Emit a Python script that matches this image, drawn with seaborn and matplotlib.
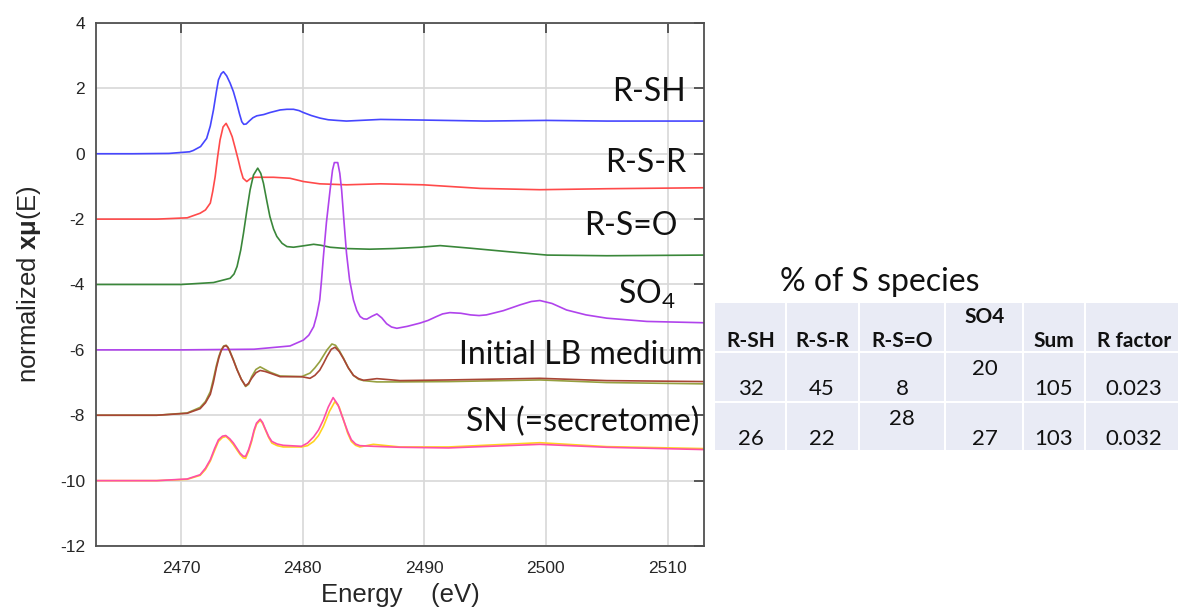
import matplotlib
matplotlib.use("Agg")
import matplotlib.pyplot as plt
import seaborn as sns
from matplotlib.patches import Rectangle

# ---------------- data ----------------
rsh_E = [2463, 2466, 2469, 2470.7, 2471.0, 2471.6, 2472.1, 2472.4, 2472.66, 2472.9, 2473.07, 2473.3,
         2473.48, 2473.75, 2474.03, 2474.3, 2474.58, 2474.8, 2474.99, 2475.15, 2475.35, 2475.6,
         2475.9, 2476.22, 2476.8, 2477.3, 2478.14, 2478.7, 2479.24, 2479.7, 2480.06, 2480.7,
         2481.43, 2482.1, 2482.8, 2483.6, 2485.27, 2486.4, 2490, 2495, 2500, 2505, 2513]
rsh_y = [0, 0, 0.01, 0.06, 0.1, 0.22, 0.47, 0.85, 1.34, 1.9, 2.26, 2.45,
         2.51, 2.38, 2.16, 1.9, 1.54, 1.22, 0.98, 0.9, 0.91, 1.0,
         1.1, 1.16, 1.2, 1.26, 1.34, 1.36, 1.36, 1.32, 1.26, 1.17,
         1.09, 1.04, 1.02, 1.0, 1.03, 1.05, 1.03, 1.0, 1.02, 1.0, 1.0]

rsr_E = [2463, 2468, 2470.5, 2471.56, 2472.0, 2472.4, 2472.6, 2472.8, 2473.0, 2473.2, 2473.45,
         2473.7, 2473.95, 2474.2, 2474.45, 2474.7, 2474.9, 2475.1, 2475.4, 2475.7, 2476.0,
         2477.6, 2478.95, 2480.06, 2481.4, 2483.6, 2486.4, 2489.9, 2494.6, 2499.5, 2505, 2513]
rsr_y = [-2.0, -2.0, -1.96, -1.82, -1.72, -1.51, -1.15, -0.7, -0.1, 0.42, 0.82,
         0.93, 0.75, 0.52, 0.17, -0.19, -0.5, -0.75, -0.85, -0.76, -0.72,
         -0.72, -0.75, -0.85, -0.92, -0.95, -0.92, -0.95, -1.06, -1.1, -1.07, -1.04]

rso_E = [2463, 2470, 2472.66, 2474.03, 2474.35, 2474.6, 2474.9, 2475.13, 2475.4, 2475.67, 2475.95,
         2476.3, 2476.55, 2476.77, 2477.05, 2477.3, 2477.6, 2477.87, 2478.3, 2478.7, 2479.24,
         2480.0, 2480.9, 2481.5, 2482.25, 2483.6, 2485.5, 2487.5, 2489.65, 2491.3, 2493.8,
         2497, 2500.1, 2505, 2513]
rso_y = [-4.0, -4.0, -3.94, -3.81, -3.68, -3.45, -2.95, -2.43, -1.75, -1.11, -0.65,
         -0.44, -0.6, -0.9, -1.45, -1.92, -2.3, -2.53, -2.74, -2.84, -2.86,
         -2.82, -2.77, -2.8, -2.86, -2.9, -2.92, -2.9, -2.86, -2.81, -2.89,
         -3.0, -3.1, -3.12, -3.1]

so4_E = [2463, 2470, 2476, 2478.96, 2480.06, 2480.5, 2480.9, 2481.15, 2481.4, 2481.55, 2481.7,
         2481.95, 2482.25, 2482.45, 2482.6, 2482.88, 2483.05, 2483.2, 2483.4, 2483.6, 2483.85,
         2484.17, 2484.45, 2484.72, 2485.0, 2485.27, 2485.7, 2486.1, 2486.5, 2486.9, 2487.3,
         2487.74, 2488.6, 2489.65, 2490.3, 2491.0, 2491.5, 2492.1, 2493.0, 2493.8, 2494.5,
         2495.1, 2496.5, 2497.9, 2498.8, 2499.5, 2500.5, 2501.7, 2503.3, 2505, 2508.3, 2513]
so4_y = [-6.0, -6.0, -5.98, -5.88, -5.7, -5.55, -5.29, -4.95, -4.47, -3.85, -3.15,
         -2.1, -1.11, -0.5, -0.27, -0.27, -0.6, -1.11, -2.1, -3.04, -3.85,
         -4.47, -4.8, -4.98, -5.05, -5.06, -4.97, -4.9, -5.02, -5.2, -5.3,
         -5.34, -5.28, -5.18, -5.1, -4.98, -4.9, -4.86, -4.88, -4.93, -4.95,
         -4.93, -4.8, -4.62, -4.52, -4.49, -4.58, -4.78, -4.93, -5.03, -5.13, -5.17]

lb1_E = [2463, 2468, 2470.5, 2471.56, 2472.0, 2472.4, 2472.65, 2472.9, 2473.1, 2473.3, 2473.5,
         2473.7, 2473.85, 2474.0, 2474.3, 2474.6, 2474.95, 2475.3, 2475.55, 2475.8, 2476.15,
         2476.5, 2476.9, 2477.3, 2478.14, 2479.9, 2480.6, 2481.0, 2481.4, 2481.7, 2482.0,
         2482.4, 2482.7, 2483.0, 2483.35, 2483.75, 2484.17, 2484.6, 2485.0, 2486.1, 2488.0,
         2492, 2499.5, 2505, 2513]
lb1_y = [-8.0, -8.0, -7.93, -7.76, -7.58, -7.28, -6.9, -6.48, -6.2, -6.0, -5.88,
         -5.86, -5.92, -6.03, -6.3, -6.6, -6.9, -7.12, -7.05, -6.82, -6.6,
         -6.52, -6.6, -6.68, -6.8, -6.82, -6.71, -6.55, -6.36, -6.18, -6.0,
         -5.82, -5.86, -6.02, -6.25, -6.55, -6.78, -6.9, -6.94, -6.98, -6.98,
         -6.97, -6.92, -7.0, -7.04]

lb2_E = [2463, 2468, 2470.5, 2471.56, 2472.0, 2472.4, 2472.65, 2472.9, 2473.1, 2473.3, 2473.5,
         2473.7, 2473.85, 2474.0, 2474.3, 2474.6, 2474.95, 2475.3, 2475.55, 2475.8, 2476.15,
         2476.5, 2476.9, 2477.3, 2478.14, 2479.9, 2480.6, 2481.0, 2481.4, 2481.7, 2482.0,
         2482.35, 2482.66, 2483.0, 2483.35, 2483.75, 2484.17, 2484.6, 2485.0, 2486.1, 2488.0,
         2492, 2499.5, 2505, 2513]
lb2_y = [-8.0, -8.0, -7.94, -7.8, -7.62, -7.36, -7.0, -6.55, -6.25, -6.02, -5.9,
         -5.87, -5.93, -6.05, -6.32, -6.61, -6.9, -7.1, -7.02, -6.87, -6.7,
         -6.63, -6.66, -6.71, -6.82, -6.82, -6.87, -6.78, -6.62, -6.42, -6.2,
         -5.98, -5.92, -6.05, -6.27, -6.55, -6.78, -6.88, -6.93, -6.88, -6.94,
         -6.92, -6.87, -6.94, -6.97]

sn1_E = [2463, 2468, 2470.5, 2471.56, 2472.0, 2472.4, 2472.75, 2473.07, 2473.4, 2473.7, 2474.0,
         2474.3, 2474.85, 2475.1, 2475.3, 2475.55, 2475.8, 2476.0, 2476.2, 2476.5, 2476.7,
         2476.9, 2477.2, 2477.46, 2477.9, 2478.4, 2479.9, 2480.4, 2480.9, 2481.3, 2481.7,
         2482.2, 2482.65, 2483.0, 2483.4, 2483.7, 2484.0, 2484.35, 2484.7, 2485.8, 2488,
         2492, 2499.5, 2505, 2513]
sn1_y = [-10.0, -10.0, -9.96, -9.84, -9.66, -9.4, -9.08, -8.8, -8.68, -8.65, -8.76,
         -8.9, -9.2, -9.3, -9.32, -9.1, -8.8, -8.5, -8.28, -8.15, -8.25,
         -8.42, -8.68, -8.85, -8.93, -8.97, -8.97, -8.93, -8.8, -8.62, -8.34,
         -7.88, -7.58, -7.75, -8.2, -8.55, -8.8, -8.92, -8.97, -8.89, -8.97,
         -8.97, -8.84, -8.96, -9.02]

sn2_E = [2463, 2468, 2470.5, 2471.56, 2472.0, 2472.4, 2472.75, 2473.07, 2473.4, 2473.67, 2474.0,
         2474.3, 2474.85, 2475.1, 2475.3, 2475.55, 2475.8, 2476.0, 2476.2, 2476.5, 2476.7,
         2476.9, 2477.2, 2477.46, 2477.9, 2478.4, 2479.9, 2480.4, 2480.9, 2481.3, 2481.7,
         2482.1, 2482.5, 2482.9, 2483.35, 2483.7, 2484.0, 2484.35, 2484.7, 2485.8, 2488,
         2492, 2499.5, 2505, 2513]
sn2_y = [-10.0, -10.0, -9.95, -9.82, -9.62, -9.36, -9.02, -8.75, -8.64, -8.62, -8.72,
         -8.85, -9.16, -9.25, -9.26, -9.05, -8.75, -8.45, -8.24, -8.12, -8.22,
         -8.4, -8.65, -8.8, -8.88, -8.92, -8.95, -8.85, -8.66, -8.45, -8.14,
         -7.75, -7.46, -7.68, -8.14, -8.5, -8.75, -8.88, -8.93, -8.95, -8.98,
         -9.0, -8.89, -8.98, -9.05]

x_ticks = [2470, 2480, 2490, 2500, 2510]
y_ticks = [4, 2, 0, -2, -4, -6, -8, -10, -12]

curve_labels = ["R-SH", "R-S-R", "R-S=O", "SO$_\\mathregular{4}$", "Initial LB medium", "SN (=secretome)"]
label_y = [1.9, -0.28, -2.2, -4.3, -6.15, -8.2]
label_E = [2511.5, 2511.5, 2510.8, 2510.7, 2512.9, 2512.6]

table_title = "% of S species"
table_header = ["R-SH", "R-S-R", "R-S=O", "SO4", "Sum", "R factor"]
table_row1 = ["32", "45", "8", "20", "105", "0.023"]
table_row2 = ["26", "22", "28", "27", "103", "0.032"]

# ---------------- styling ----------------
sns.set_style("white")
plt.rcParams["font.family"] = ["Liberation Sans", "DejaVu Sans"]
plt.rcParams["mathtext.fontset"] = "custom"
plt.rcParams["mathtext.bf"] = "Liberation Sans:bold"
plt.rcParams["mathtext.rm"] = "Liberation Sans"
plt.rcParams["mathtext.it"] = "Liberation Sans"

fig = plt.figure(figsize=(11.78, 6.14), dpi=100)
ax = fig.add_axes([96 / 1178, 1 - 546 / 614, 608 / 1178, 523 / 614])

series = [
    (rsh_E, rsh_y, "#4646ff"),
    (rsr_E, rsr_y, "#ff4a4a"),
    (rso_E, rso_y, "#3a873a"),
    (so4_E, so4_y, "#b043ec"),
    (lb1_E, lb1_y, "#96a040"),
    (lb2_E, lb2_y, "#a84535"),
    (sn1_E, sn1_y, "#ffd21f"),
    (sn2_E, sn2_y, "#ff4fa8"),
]
for E, y, c in series:
    sns.lineplot(x=E, y=y, color=c, lw=1.2, ax=ax, sort=False, estimator=None)

ax.set_xlim(2463, 2513)
ax.set_ylim(-12, 4)
ax.set_xticks(x_ticks)
ax.set_yticks(y_ticks)
ax.set_yticklabels([str(v) for v in y_ticks])
ax.grid(True, color="#d8d8d8", lw=1.2)
ax.set_axisbelow(True)
for s in ax.spines.values():
    s.set_color("#505050")
    s.set_linewidth(1.3)
ax.tick_params(direction="in", length=7, width=1.2, color="#404040",
               top=True, right=True, labelsize=12.5)
ax.tick_params(axis="x", pad=11)
ax.tick_params(axis="y", pad=8)
ax.set_xlabel("Energy    (eV)", fontsize=18.5, labelpad=5)
ax.set_ylabel("normalized $\\mathbf{x\\mu}$(E)", fontsize=18.5, labelpad=12)

for lab, yy, ee in zip(curve_labels, label_y, label_E):
    ax.text(ee, yy, lab, ha="right", va="center", fontsize=23,
            family=["Lato", "DejaVu Sans"], color="#111111")

# ---------------- table ----------------
tab = fig.add_axes([0, 0, 1, 1])
tab.set_xlim(0, 1178)
tab.set_ylim(614, 0)
tab.axis("off")

col_edges = [(715, 785), (787, 858), (860, 944), (946, 1022), (1024, 1084), (1086, 1178)]
row_edges = [(303, 351), (353, 401), (403, 450)]
cell_color = "#e9ebf5"
for (y0, y1) in row_edges:
    for (x0, x1) in col_edges:
        tab.add_patch(Rectangle((x0, y0), x1 - x0, y1 - y0, facecolor=cell_color, edgecolor="none"))

tab.text(880, 282, table_title, ha="center", va="center", fontsize=23,
         family=["Lato", "DejaVu Sans"], color="#111111")

col_cx = [751, 822, 902, 985, 1054, 1134]
head_base = [347, 347, 347, 323, 347, 347]
row1_base = [395, 395, 395, 375, 395, 395]
row2_base = [445, 445, 425, 445, 445, 445]
for i in range(6):
    tab.text(col_cx[i], head_base[i], table_header[i], ha="center", va="baseline",
             fontsize=15, fontweight="bold", family=["Lato", "DejaVu Sans"], color="#111111")
    tab.text(col_cx[i], row1_base[i], table_row1[i], ha="center", va="baseline",
             fontsize=16, family=["Lato", "DejaVu Sans"], color="#111111")
    tab.text(col_cx[i], row2_base[i], table_row2[i], ha="center", va="baseline",
             fontsize=16, family=["Lato", "DejaVu Sans"], color="#111111")

fig.savefig("out.png", dpi=100)
